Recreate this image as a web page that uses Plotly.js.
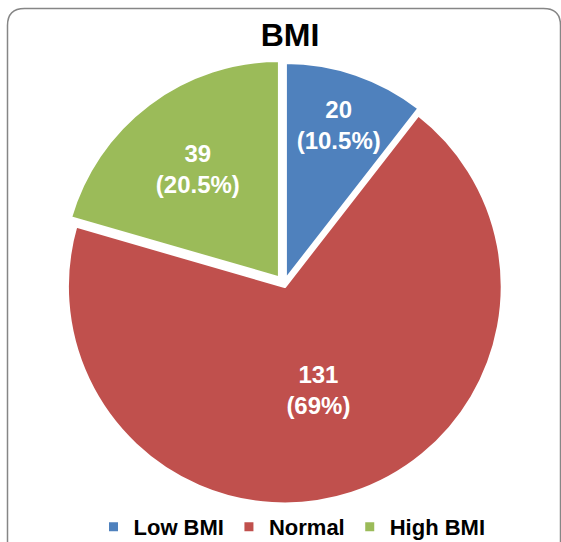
<!DOCTYPE html>
<html>
<head>
<meta charset="utf-8">
<script src="https://cdn.plot.ly/plotly-3.0.1.min.js"></script>
<style>
  html, body { margin: 0; padding: 0; background: #ffffff; }
  #chart { width: 561px; height: 542px; }
</style>
</head>
<body>
<div id="chart"></div>
<script>
// ---- data ----
const categories = ['Low BMI', 'Normal', 'High BMI'];
const counts = [20, 131, 39];
const pctLabels = ['10.5%', '69%', '20.5%'];
const sliceColors = ['#4F81BD', '#C0504D', '#9BBB59'];
const slicePull = [0.02, 0.012, 0.035];

// ---- layout helpers (figure pixels -> paper fraction, margins are 0) ----
const W = 561, H = 542;
const px = x => x / W;
const py = y => 1 - y / H;

const FONT = "'Liberation Sans Narrow', 'Arial Narrow', 'Liberation Sans', Arial, sans-serif";

// pie box: centre (284, 284), half-size 225 px
const cxPx = 284, cyPx = 284, half = 225;

const trace = {
  type: 'pie',
  labels: categories,
  values: counts,
  text: pctLabels,
  texttemplate: '%{value}<br>(%{text})',
  textposition: 'inside',
  insidetextorientation: 'horizontal',
  sort: false,
  direction: 'clockwise',
  rotation: 0,
  pull: slicePull,
  marker: { colors: sliceColors, line: { color: '#ffffff', width: 3 } },
  textfont: { family: FONT, size: 24, color: '#ffffff', weight: 'bold' },
  hoverinfo: 'skip',
  domain: { x: [px(cxPx - half), px(cxPx + half)], y: [py(cyPx + half), py(cyPx - half)] }
};

// rounded border (decoration)
const bx0 = 7.5, by0 = 8.5, bx1 = 560.5, by1 = 560, rr = 17;
const borderPath =
  'M ' + px(bx0) + ',' + py(by1) +
  ' L ' + px(bx0) + ',' + py(by0 + rr) +
  ' Q ' + px(bx0) + ',' + py(by0) + ' ' + px(bx0 + rr) + ',' + py(by0) +
  ' L ' + px(bx1 - rr) + ',' + py(by0) +
  ' Q ' + px(bx1) + ',' + py(by0) + ' ' + px(bx1) + ',' + py(by0 + rr) +
  ' L ' + px(bx1) + ',' + py(by1);

const layout = {
  width: W, height: H,
  margin: { l: 0, r: 0, t: 0, b: 0, pad: 0, autoexpand: false },
  paper_bgcolor: '#ffffff',
  plot_bgcolor: '#ffffff',
  title: {
    text: '<b>BMI</b>',
    font: { family: FONT, size: 32, color: '#000000' },
    x: 290 / W, xanchor: 'center', xref: 'container',
    y: 1 - 35 / H, yanchor: 'middle', yref: 'container'
  },
  showlegend: true,
  legend: {
    orientation: 'h',
    x: 292 / W, xanchor: 'center',
    y: 1 - 527 / H, yanchor: 'middle',
    font: { family: FONT, size: 22, color: '#000000', weight: 'bold' },
    itemclick: false, itemdoubleclick: false,
    bgcolor: 'rgba(0,0,0,0)'
  },
  shapes: [{
    type: 'path', xref: 'paper', yref: 'paper',
    path: borderPath,
    line: { color: '#868686', width: 1.5 },
    layer: 'above'
  }]
};

Plotly.newPlot('chart', [trace], layout, { displayModeBar: false, staticPlot: true });
</script>
</body>
</html>
